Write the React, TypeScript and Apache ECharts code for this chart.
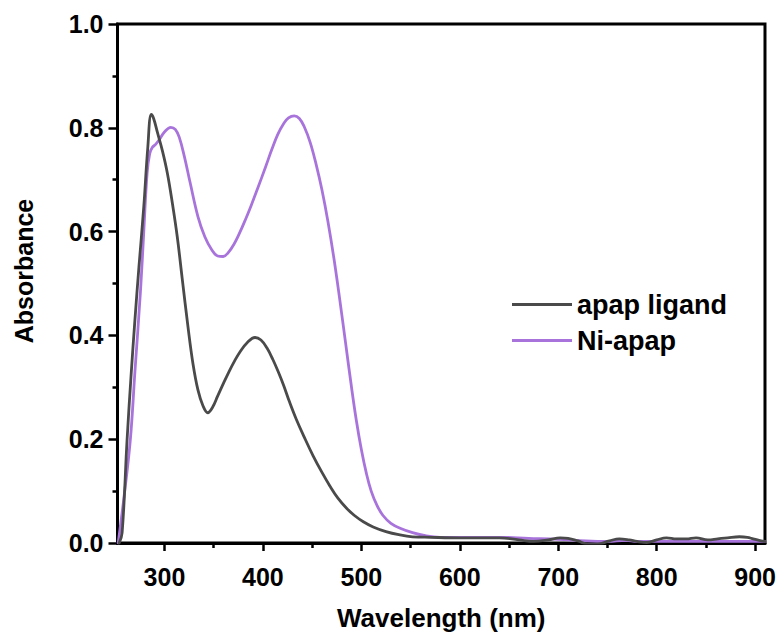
import React, { useEffect, useRef } from "react";
import * as echarts from "echarts";

const ligandWavelength = [254, 257, 262, 266, 270, 274, 279, 283, 286.6, 289, 293, 298, 303, 308, 313, 318, 324, 329, 334, 339, 344, 349, 354, 360, 365, 371, 377, 384, 392, 398, 404, 410, 416, 421, 427, 434, 442, 451, 460, 468, 476, 485, 493, 502, 512, 525, 538, 552, 570, 600, 640, 660, 675, 690, 702, 710, 720, 730, 740, 752, 762, 772, 780, 790, 800, 810, 820, 830, 840, 852, 862, 872, 884, 892, 898, 904, 910];
const ligandAbsorbance = [0.0, 0.02, 0.198, 0.32, 0.43, 0.53, 0.648, 0.76, 0.826, 0.818, 0.79, 0.755, 0.712, 0.655, 0.59, 0.51, 0.415, 0.345, 0.295, 0.265, 0.251, 0.262, 0.283, 0.308, 0.328, 0.35, 0.369, 0.386, 0.396, 0.391, 0.376, 0.354, 0.328, 0.304, 0.272, 0.238, 0.204, 0.168, 0.136, 0.11, 0.087, 0.067, 0.053, 0.041, 0.031, 0.022, 0.016, 0.012, 0.011, 0.01, 0.01, 0.006, 0.003, 0.006, 0.01, 0.009, 0.004, -0.002, -0.002, 0.004, 0.008, 0.006, 0.003, 0.001, 0.006, 0.01, 0.008, 0.008, 0.01, 0.006, 0.008, 0.01, 0.012, 0.011, 0.008, 0.005, 0.003];

const niWavelength = [253, 259, 265.3, 270, 275.7, 279, 282.4, 285, 287.6, 291, 295, 300, 306.5, 311, 315, 320.3, 326, 334, 341, 348, 354, 359.7, 365, 371, 376, 382, 388, 395, 402.6, 409, 415, 421, 426, 431.8, 437, 442, 448, 454, 460, 466, 472, 478, 484, 490, 495, 500, 505, 510, 516, 522, 530, 540, 552, 565, 580, 600, 640, 670, 700, 728, 750, 769, 780, 800, 850, 910];
const niAbsorbance = [0.0, 0.09, 0.198, 0.33, 0.487, 0.6, 0.713, 0.75, 0.762, 0.768, 0.778, 0.792, 0.801, 0.797, 0.782, 0.744, 0.695, 0.629, 0.59, 0.565, 0.553, 0.552, 0.56, 0.577, 0.596, 0.622, 0.65, 0.685, 0.724, 0.758, 0.787, 0.808, 0.819, 0.823, 0.818, 0.802, 0.772, 0.73, 0.68, 0.62, 0.55, 0.47, 0.385, 0.3, 0.235, 0.18, 0.135, 0.1, 0.072, 0.053, 0.038, 0.028, 0.02, 0.014, 0.011, 0.011, 0.011, 0.009, 0.007, 0.004, 0.003, 0.005, 0.003, 0.003, 0.003, 0.003];

const seriesNames = ["apap ligand", "Ni-apap"];
const seriesColors = ["#4a4a4a", "#a874dc"];
const xMajorTicks = [300, 400, 500, 600, 700, 800, 900];
const xMinorTicks = [350, 450, 550, 650, 750, 850];
const xTitle = "Wavelength (nm)";
const yTitle = "Absorbance";

const FONT = "'Liberation Sans', Arial, sans-serif";

export default function App() {
  const ref = useRef<HTMLDivElement>(null);
  useEffect(() => {
    if (!ref.current) return;
    const chart = echarts.init(ref.current, undefined, { renderer: "svg" });
    const pairs = (xs: number[], ys: number[]) => xs.map((x, i) => [x, ys[i]]);
    chart.setOption({
      animation: false,
      backgroundColor: "#ffffff",
      grid: {
        left: 117.5,
        right: 13,
        top: 24,
        bottom: 92,
        show: true,
        borderColor: "#000",
        borderWidth: 3,
        containLabel: false,
      },
      legend: {
        orient: "vertical",
        left: 507,
        top: 286,
        itemWidth: 60,
        itemHeight: 3,
        itemGap: 9,
        textStyle: { fontFamily: FONT, fontWeight: "bold", fontSize: 27, lineHeight: 26, color: "#000" },
        data: seriesNames.map((n) => ({ name: n, icon: "rect" })),
      },
      graphic: [
        {
          type: "text",
          x: 24,
          y: 271,
          rotation: Math.PI / 2,
          style: {
            text: yTitle,
            fontFamily: FONT,
            fontWeight: "bold",
            fontSize: 25,
            fill: "#000",
            textAlign: "center",
            textVerticalAlign: "middle",
          },
        },
      ],
      xAxis: [
        {
          type: "value",
          min: 252.3,
          max: 910,
          name: xTitle,
          nameLocation: "middle",
          nameGap: 62,
          nameTextStyle: { fontFamily: FONT, fontWeight: "bold", fontSize: 26, color: "#000" },
          axisLine: { show: true, lineStyle: { color: "#000", width: 3 } },
          axisTick: { show: true, customValues: xMajorTicks, length: 8, lineStyle: { color: "#000", width: 2.5 } },
          axisLabel: {
            customValues: xMajorTicks,
            margin: 21,
            fontFamily: FONT,
            fontWeight: "bold",
            fontSize: 25,
            color: "#000",
          },
          splitLine: { show: false },
        },
        {
          type: "value",
          min: 252.3,
          max: 910,
          position: "bottom",
          axisLine: { show: false },
          axisTick: { show: true, customValues: xMinorTicks, length: 5, lineStyle: { color: "#000", width: 2.5 } },
          axisLabel: { show: false },
          splitLine: { show: false },
        },
      ],
      yAxis: {
        type: "value",
        min: 0,
        max: 1,
        interval: 0.2,
        axisLine: { show: true, lineStyle: { color: "#000", width: 3 } },
        axisTick: { show: true, length: 9, lineStyle: { color: "#000", width: 2.5 } },
        minorTick: { show: true, splitNumber: 2, length: 5, lineStyle: { color: "#000", width: 2.5 } },
        axisLabel: {
          margin: 14,
          fontFamily: FONT,
          fontWeight: "bold",
          fontSize: 25,
          color: "#000",
          formatter: (v: number) => v.toFixed(1),
        },
        splitLine: { show: false },
      },
      series: [
        {
          name: seriesNames[0],
          type: "line",
          data: pairs(ligandWavelength, ligandAbsorbance),
          showSymbol: false,
          symbol: "none",
          smooth: 0.4,
          lineStyle: { color: seriesColors[0], width: 2.8, join: "round", cap: "round" },
          itemStyle: { color: seriesColors[0] },
          z: 3,
        },
        {
          name: seriesNames[1],
          type: "line",
          data: pairs(niWavelength, niAbsorbance),
          showSymbol: false,
          symbol: "none",
          smooth: 0.4,
          lineStyle: { color: seriesColors[1], width: 2.8, join: "round", cap: "round" },
          itemStyle: { color: seriesColors[1] },
          z: 2,
        },
      ],
    });
    return () => chart.dispose();
  }, []);
  return <div ref={ref} style={{ width: 779, height: 636, position: "absolute", left: 0, top: 0 }} />;
}
